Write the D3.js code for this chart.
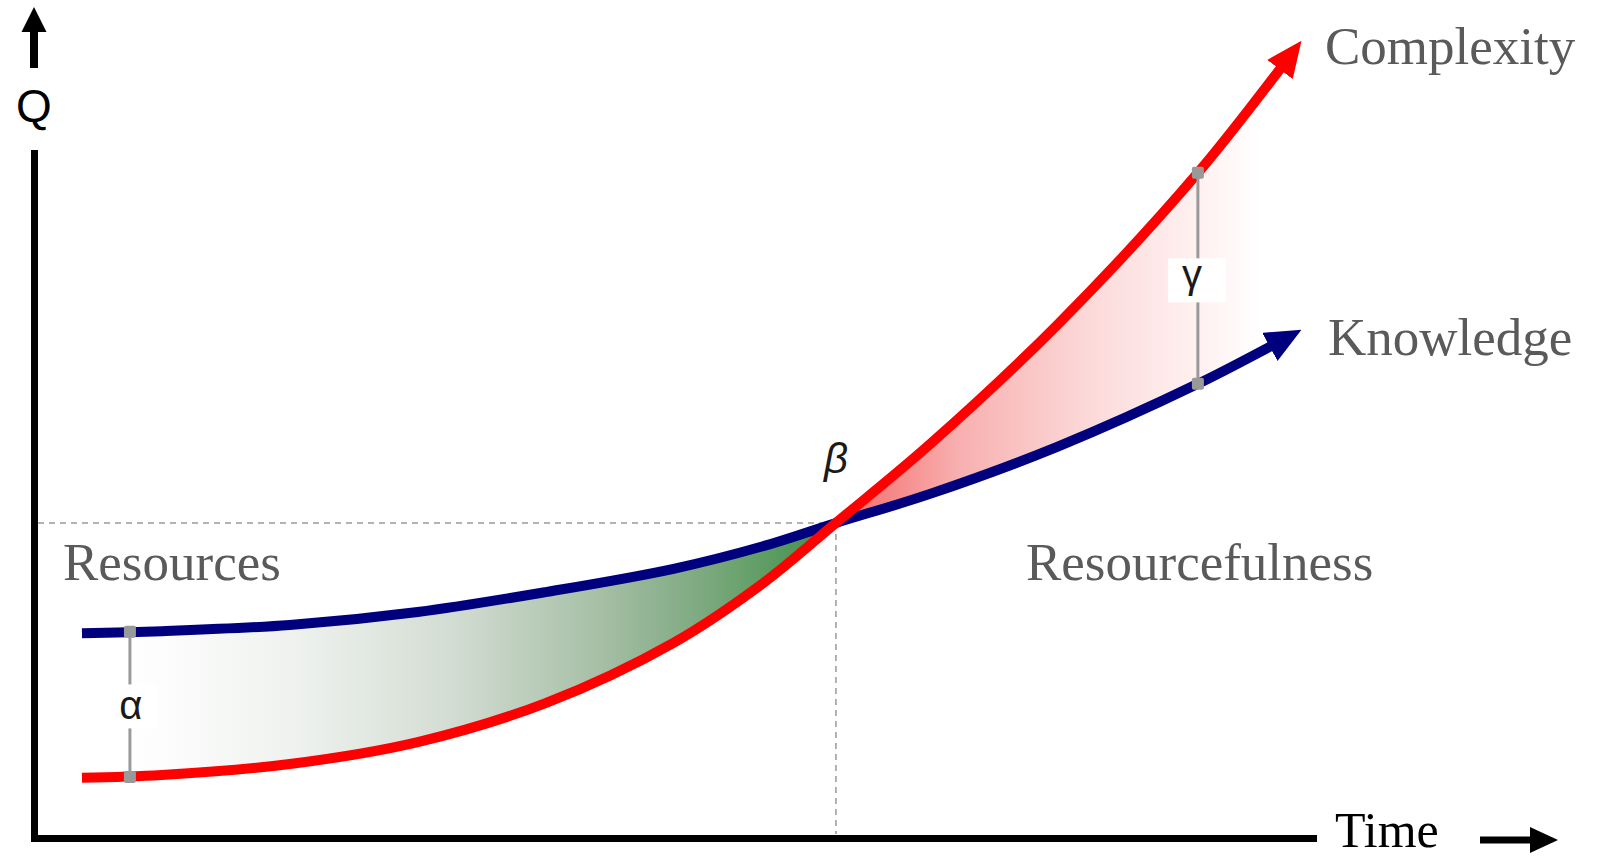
<!DOCTYPE html>
<html><head><meta charset="utf-8">
<script src="https://cdn.jsdelivr.net/npm/d3@7"></script>
<style>html,body{margin:0;padding:0;background:#fff;overflow:hidden}</style>
</head><body>
<svg id="chart" width="1604" height="859"></svg>
<script>
// ---- data ----
const time       = [0.375, 1, 2, 3, 4, 5, 5.7, 6.27, 7, 8, 9.1, 9.91];
const knowledge  = [2.99, 3.02, 3.11, 3.30, 3.59, 3.93, 4.26, 4.60, 5.02, 5.71, 6.63, 7.42];
const complexity = [0.88, 0.92, 1.08, 1.40, 1.97, 2.85, 3.72, 4.60, 5.74, 7.49, 9.71, 11.64];
const seriesNames  = ["Complexity", "Knowledge"];
const regionLabels = ["Resources", "Resourcefulness"];
const axisTitles   = ["Time", "Q"];
const crossIndex   = 7;                     // β: knowledge == complexity
const alphaGap     = [0.75, 3.01, 0.89];    // time, knowledge, complexity
const gammaGap     = [9.1, 6.63, 9.71];
const gapSymbols   = ["α", "β", "γ"];

// ---- scales ----
const svg = d3.select("#chart");
const x = d3.scaleLinear().domain([0, 10]).range([34, 1313]);
const y = d3.scaleLinear().domain([0, 10]).range([838, 153]);

const defs = svg.append("defs");
function arrowMarker(id, color) {
  defs.append("marker").attr("id", id)
    .attr("markerUnits", "userSpaceOnUse")
    .attr("viewBox", "0 0 36 32").attr("markerWidth", 36).attr("markerHeight", 32)
    .attr("refX", 36).attr("refY", 16).attr("orient", "auto")
    .append("path").attr("d", "M0,0L36,16L0,32Z").attr("fill", color);
}
arrowMarker("arrRed", "#ff0000");
arrowMarker("arrBlue", "#00007f");

// fill gradient
const gx1 = x(time[0]), gx2 = x(time[time.length - 1]);
const grad = defs.append("linearGradient").attr("id", "fillGrad")
  .attr("gradientUnits", "userSpaceOnUse")
  .attr("x1", gx1).attr("x2", gx2).attr("y1", 0).attr("y2", 0);
const stops = [
  [130, "#ffffff"], [300, "#eef1ee"], [450, "#d3ddd3"], [600, "#a6bfa6"],
  [700, "#7eaa80"], [790, "#53985a"], [834, "#3f8f47"],
  [838, "#f46868"], [960, "#f8b0b0"], [1100, "#fcdcdc"], [1200, "#fff1f1"], [1260, "#ffffff"]
];
stops.forEach(([p, c]) => grad.append("stop")
  .attr("offset", Math.max(0, Math.min(1, (p - gx1) / (gx2 - gx1)))).attr("stop-color", c));

// ---- axes ----
const xAxis = svg.append("g").attr("transform", `translate(0,${y(0)})`)
  .call(d3.axisBottom(x).tickValues([]).tickSizeOuter(0));
const yAxis = svg.append("g").attr("transform", `translate(${x(0)},0)`)
  .call(d3.axisLeft(y).tickValues([]).tickSizeOuter(0));
[xAxis, yAxis].forEach(a => a.select(".domain")
  .attr("stroke", "#000").attr("stroke-width", 7).attr("stroke-linecap", "square"));

// y axis arrow + Q
const ax0 = x(0);
svg.append("line").attr("x1", ax0).attr("x2", ax0).attr("y1", 68).attr("y2", 30)
  .attr("stroke", "#000").attr("stroke-width", 8);
svg.append("path").attr("d", `M${ax0 - 12.5},32L${ax0 + 12.5},32L${ax0},7Z`).attr("fill", "#000");
svg.append("text").attr("x", ax0).attr("y", 122).attr("text-anchor", "middle")
  .attr("font-family", "Liberation Sans, Arial, sans-serif").attr("font-size", 46)
  .attr("fill", "#000").text(axisTitles[1]);

// x axis title + arrow
svg.append("text").attr("x", 1335).attr("y", 847)
  .attr("font-family", "Liberation Serif, Times New Roman, serif").attr("font-size", 50)
  .attr("fill", "#000").text(axisTitles[0]);
svg.append("line").attr("x1", 1480).attr("x2", 1533).attr("y1", 840).attr("y2", 840)
  .attr("stroke", "#000").attr("stroke-width", 7);
svg.append("path").attr("d", "M1530,827L1530,853L1558,840Z").attr("fill", "#000");

// ---- dashed guides at β ----
const cx = x(time[crossIndex]), cy = y(knowledge[crossIndex]);
svg.append("line").attr("x1", x(0) + 4).attr("x2", cx).attr("y1", cy).attr("y2", cy)
  .attr("stroke", "#9a9a9a").attr("stroke-width", 1.5).attr("stroke-dasharray", "6,5");
svg.append("line").attr("x1", cx).attr("x2", cx).attr("y1", cy).attr("y2", y(0) - 4)
  .attr("stroke", "#9a9a9a").attr("stroke-width", 1.5).attr("stroke-dasharray", "6,5");

// ---- fill between curves ----
const curve = d3.curveCatmullRom.alpha(0.5);
const area = d3.area()
  .x((d, i) => x(time[i]))
  .y0((d, i) => y(complexity[i]))
  .y1((d, i) => y(knowledge[i]))
  .curve(curve);
svg.append("path").datum(time).attr("d", area).attr("fill", "url(#fillGrad)");

// ---- lines ----
const line = d3.line().x((d, i) => x(time[i])).y(d => y(d)).curve(curve);
function drawSeries(values, color, marker) {
  const p = svg.append("path").datum(values).attr("d", line)
    .attr("fill", "none").attr("stroke", color).attr("stroke-width", 10)
    .attr("marker-end", `url(#${marker})`);
  const L = p.node().getTotalLength();
  p.attr("stroke-dasharray", `${L - 28} ${L}`);
}
drawSeries(knowledge, "#00007f", "arrBlue");
drawSeries(complexity, "#ff0000", "arrRed");

// ---- gap indicators α, γ ----
function gap(g, sym, textDy, textDx) {
  const gx = x(g[0]), yk = y(g[1]), yc = y(g[2]);
  const top = Math.min(yk, yc), bot = Math.max(yk, yc), mid = (top + bot) / 2;
  svg.append("line").attr("x1", gx).attr("x2", gx).attr("y1", top).attr("y2", bot)
    .attr("stroke", "#9a9a9a").attr("stroke-width", 3);
  svg.append("rect").attr("x", gx - 30).attr("y", mid - 20).attr("width", 58).attr("height", 44)
    .attr("fill", "#fff");
  svg.append("text").attr("x", gx + textDx).attr("y", mid + textDy).attr("text-anchor", "middle")
    .attr("font-family", "Liberation Sans, Arial, sans-serif").attr("font-size", 40)
    .attr("fill", "#1a1a1a").text(sym);
  [yk, yc].forEach(v => svg.append("rect").attr("x", gx - 6).attr("y", v - 6)
    .attr("width", 12).attr("height", 12).attr("rx", 2).attr("fill", "#999"));
}
gap(alphaGap, gapSymbols[0], 15, 1);
gap(gammaGap, gapSymbols[2], 10, -6);

// β
svg.append("text").attr("x", cx).attr("y", cy - 50).attr("text-anchor", "middle")
  .attr("font-family", "Liberation Sans, Arial, sans-serif").attr("font-style", "italic")
  .attr("font-size", 42).attr("fill", "#1a1a1a").text(gapSymbols[1]);

// ---- labels ----
const serif = "Liberation Serif, Times New Roman, serif";
const labelColor = "#5a5a5a";
[[seriesNames[0], 1325, 64], [seriesNames[1], 1328, 355],
 [regionLabels[0], 63, 580], [regionLabels[1], 1026, 580]].forEach(([t, lx, ly]) =>
  svg.append("text").attr("x", lx).attr("y", ly).attr("font-family", serif)
    .attr("font-size", 53).attr("fill", labelColor).text(t));
</script>
</body></html>
